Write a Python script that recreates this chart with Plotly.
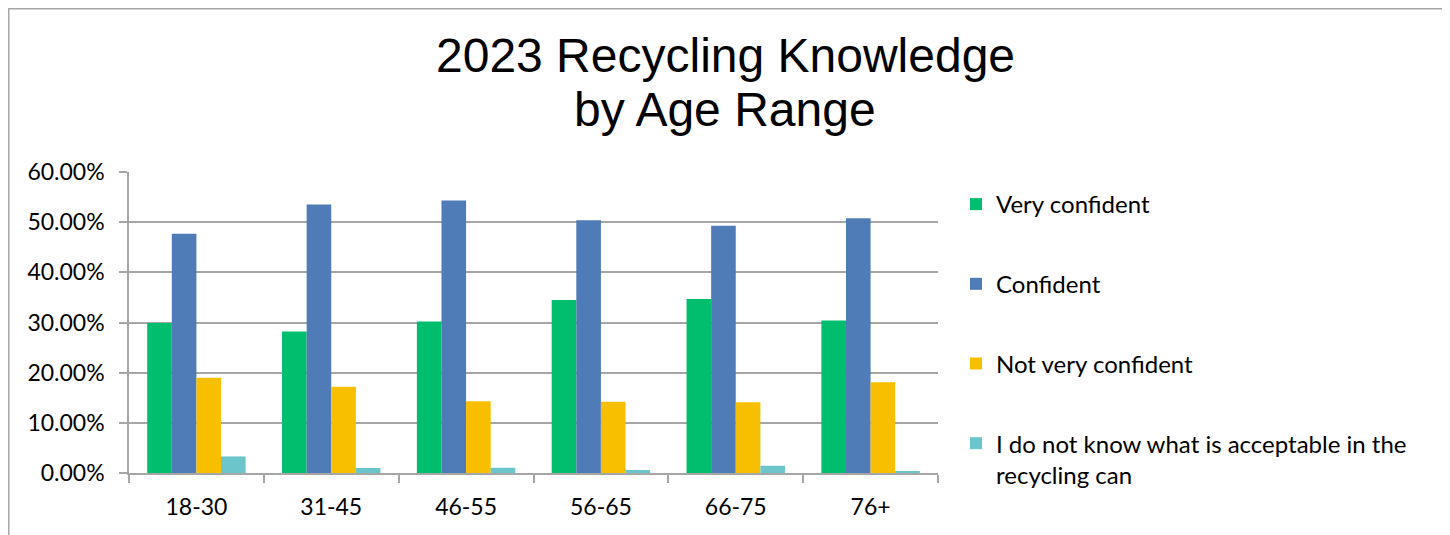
import plotly.graph_objects as go

age_ranges = ["18-30", "31-45", "46-55", "56-65", "66-75", "76+"]
very_confident = [29.9, 28.2, 30.2, 34.5, 34.7, 30.4]
confident = [47.7, 53.5, 54.3, 50.4, 49.3, 50.8]
not_very_confident = [19.0, 17.2, 14.3, 14.2, 14.1, 18.1]
do_not_know = [3.3, 1.0, 1.05, 0.6, 1.45, 0.4]

series_names = ["Very confident", "Confident", "Not very confident",
                "I do not know what is acceptable in the<br>recycling can"]
series_values = [very_confident, confident, not_very_confident, do_not_know]
colors = ["#00BE6E", "#4F7CB6", "#F8BF00", "#6BC5CA"]
title_lines = ["2023 Recycling Knowledge", "by Age Range"]

# page body has an 8px margin, so figure coords = screen coords - 8
W, H = 1442, 527
L, R, T, B = 121, 512, 164, 62
pw, ph = W - L - R, H - T - B

fig = go.Figure()
for i, (name, vals, col) in enumerate(zip(series_names, series_values, colors)):
    fig.add_trace(go.Bar(x=age_ranges, y=vals, name=name, marker_color=col,
                         marker_line_width=0, legendgroup=str(i)))

tick_font = dict(family="Lato, Noto Sans, sans-serif", size=23, color="#000000")
legend_font = dict(family="Lato, Noto Sans, sans-serif", size=24, color="#000000")
title_font = dict(family="Liberation Sans, Arial, sans-serif", size=48, color="#000000")

annotations = []
for line, ycen in zip(title_lines, [47, 101]):
    annotations.append(dict(text=line, xref="paper", yref="paper",
                            x=(717 - L) / pw, xanchor="center",
                            y=1 + (T - ycen) / ph, yanchor="middle",
                            showarrow=False, font=title_font))

fig.update_layout(
    width=W, height=H,
    margin=dict(l=L, r=R, t=T, b=B, autoexpand=False),
    paper_bgcolor="white", plot_bgcolor="white",
    barmode="group", bargap=0.27, bargroupgap=0,
    annotations=annotations,
    legend=dict(x=1 + 18 / pw, xanchor="left", y=1 - 10 / ph, yanchor="top",
                font=legend_font, traceorder="grouped", tracegroupgap=45.5,
                valign="top", bgcolor="rgba(0,0,0,0)", itemwidth=30,
                maxheight=600),
    xaxis=dict(showline=True, linecolor="#A6A6A6", linewidth=1.5,
               ticks="outside", tickson="boundaries", ticklen=8, tickcolor="#A6A6A6",
               tickwidth=1.5, tickfont=tick_font, showgrid=False,
               ticklabelstandoff=13),
    yaxis=dict(range=[0, 60], dtick=10, tickformat=".2f", ticksuffix="%",
               showline=True, linecolor="#A6A6A6", linewidth=1.5,
               ticks="outside", ticklen=8, tickcolor="#A6A6A6", tickwidth=1.5,
               gridcolor="#A6A6A6", gridwidth=1.5, tickfont=tick_font,
               zeroline=False, ticklabelstandoff=10),
    shapes=[dict(type="rect", xref="paper", yref="paper",
                 x0=(0.75 - L) / pw, x1=(1437 - L) / pw,
                 y0=-(B + 40) / ph, y1=1 + (T - 0.75) / ph,
                 line=dict(color="#A6A6A6", width=1.5), fillcolor="rgba(0,0,0,0)",
                 layer="below")],
)

fig.write_html("out.html")
